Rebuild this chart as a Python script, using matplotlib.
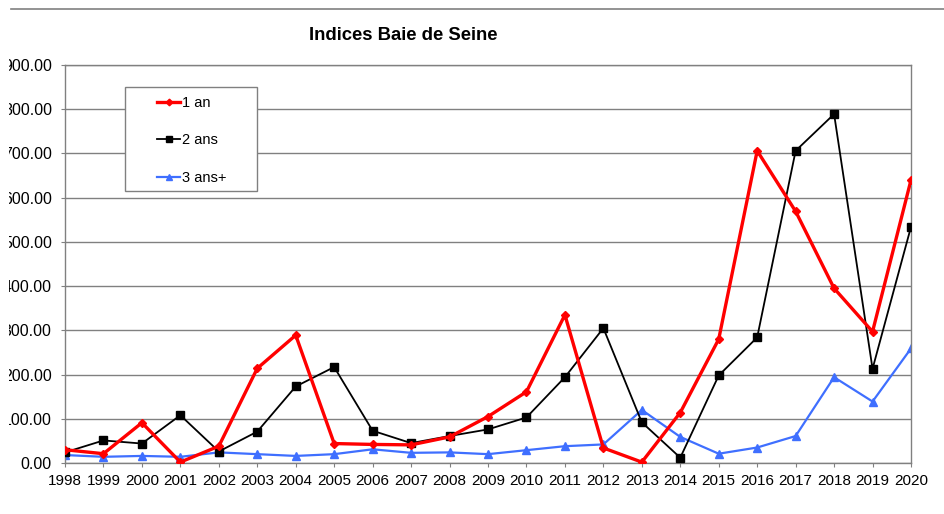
import matplotlib
matplotlib.use("Agg")
import matplotlib.pyplot as plt
from matplotlib.lines import Line2D
from matplotlib.patches import Rectangle

plt.rcParams['font.family'] = ['Liberation Sans', 'DejaVu Sans']

years = list(range(1998, 2021))
an1 = [30, 21, 91, 2, 38, 214, 289, 44, 42, 41, 59, 105, 161, 335, 34, 2, 114, 280,
       706, 569, 395, 297, 640]
an2 = [24, 51, 44, 108, 26, 71, 173, 217, 73, 45, 61, 76, 103, 194, 305, 92, 12, 198,
       284, 706, 789, 213, 534]
an3 = [18, 14, 16, 14, 24, 20, 16, 20, 31, 23, 24, 20, 29, 38, 42, 120, 59, 21,
       35, 61, 194, 139, 259]
labels = ["1 an", "2 ans", "3 ans+"]
yticks = list(range(0, 1000, 100))

W, H = 944, 514
fig = plt.figure(figsize=(W / 100, H / 100), dpi=100)
ax = fig.add_axes([65 / W, 1 - 463 / H, 846 / W, 398 / H])

ax.plot(years, an1, color="#ff0000", lw=2.4, marker="D", ms=4.5, label=labels[0], zorder=4)
ax.plot(years, an2, color="#000000", lw=1.3, marker="s", ms=6, label=labels[1], zorder=3)
ax.plot(years, an3, color="#3f6fff", lw=1.6, marker="^", ms=6, label=labels[2], zorder=2)

ax.set_xlim(1998, 2020)
ax.set_ylim(0, 900)
ax.set_xticks(years)
ax.set_xticklabels([str(y) for y in years])
ax.set_yticks(yticks)
ax.set_yticklabels([f"{v:.2f}" for v in yticks])
ax.tick_params(color="#808080", length=3)
ax.tick_params(axis="x", labelsize=11, pad=5)
ax.tick_params(axis="y", labelsize=11.5, pad=6.5)
ax.grid(axis="y", color="#808080", lw=1)
ax.set_axisbelow(True)
for s in ax.spines.values():
    s.set_color("#808080")
    s.set_linewidth(1)

fig.text(403 / W, 1 - 35 / H, "Indices Baie de Seine", ha="center", va="center",
         fontsize=13.3, fontweight="bold")

# legend frame drawn separately so its size matches the original box
fig.add_artist(Rectangle((125 / W, 1 - 191 / H), 132 / W, 104 / H, transform=fig.transFigure,
                         facecolor="white", edgecolor="#808080", lw=1, zorder=5))
leg = fig.legend(loc="upper left", bbox_to_anchor=(157 / W, 1 - 96 / H),
                 frameon=False, fontsize=10.5, handlelength=1.6, handletextpad=0.1,
                 labelspacing=1.6, borderpad=0, borderaxespad=0, markerscale=0.75)
leg.set_zorder(6)

# clipped left edge of the original picture
fig.add_artist(Rectangle((0, 0), 9 / W, 1, transform=fig.transFigure,
                         facecolor="white", edgecolor="none", zorder=10))
fig.add_artist(Line2D([11 / W, 1], [1 - 9 / H, 1 - 9 / H], color="#808080", lw=1.2))

fig.savefig("out.png", dpi=100)
